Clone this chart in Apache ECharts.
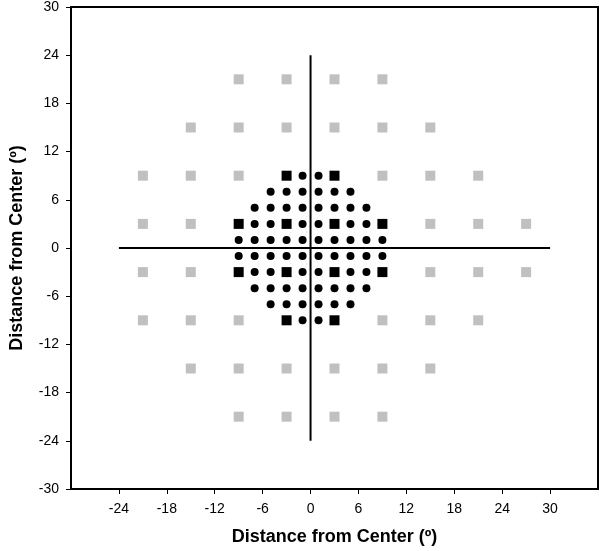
<!DOCTYPE html>
<html>
<head>
<meta charset="utf-8">
<script src="https://cdn.jsdelivr.net/npm/echarts@6/dist/echarts.min.js"></script>
<style>html,body{margin:0;padding:0;background:#fff;}#c{width:600px;height:551px;}</style>
</head>
<body>
<div id="c"></div>
<script>
// Central 10-2 style test points (black circles), [x, y] in degrees
var circlePoints = [
  [-1,9],[1,9],
  [-5,7],[-3,7],[-1,7],[1,7],[3,7],[5,7],
  [-7,5],[-5,5],[-3,5],[-1,5],[1,5],[3,5],[5,5],[7,5],
  [-7,3],[-5,3],[-1,3],[1,3],[5,3],[7,3],
  [-9,1],[-7,1],[-5,1],[-3,1],[-1,1],[1,1],[3,1],[5,1],[7,1],[9,1],
  [-9,-1],[-7,-1],[-5,-1],[-3,-1],[-1,-1],[1,-1],[3,-1],[5,-1],[7,-1],[9,-1],
  [-7,-3],[-5,-3],[-1,-3],[1,-3],[5,-3],[7,-3],
  [-7,-5],[-5,-5],[-3,-5],[-1,-5],[1,-5],[3,-5],[5,-5],[7,-5],
  [-5,-7],[-3,-7],[-1,-7],[1,-7],[3,-7],[5,-7],
  [-1,-9],[1,-9]
];
// 24-2 points inside the central field (black squares)
var blackSquares = [
  [-3,9],[3,9],
  [-9,3],[-3,3],[3,3],[9,3],
  [-9,-3],[-3,-3],[3,-3],[9,-3],
  [-3,-9],[3,-9]
];
// Remaining 24-2 points (grey squares)
var graySquares = [
  [-9,21],[-3,21],[3,21],[9,21],
  [-15,15],[-9,15],[-3,15],[3,15],[9,15],[15,15],
  [-21,9],[-15,9],[-9,9],[9,9],[15,9],[21,9],
  [-21,3],[-15,3],[15,3],[21,3],[27,3],
  [-21,-3],[-15,-3],[15,-3],[21,-3],[27,-3],
  [-21,-9],[-15,-9],[-9,-9],[9,-9],[15,-9],[21,-9],
  [-15,-15],[-9,-15],[-3,-15],[3,-15],[9,-15],[15,-15],
  [-9,-21],[-3,-21],[3,-21],[9,-21]
];
// Crosshair lines
var horizontalLine = [[-24,0],[30,0]];
var verticalLine = [[0,-24],[0,24]];
// Axis ranges
var xRange = [-30, 36];
var yRange = [-30, 30];
var tickStep = 6;
var axisTitle = 'Distance from Center (º)';

var chart = echarts.init(document.getElementById('c'));
var font = 'Liberation Sans, Arial, sans-serif';
chart.setOption({
  animation: false,
  grid: {left: 65, right: 2, top: 6, bottom: 57, show: true, borderColor: '#000', borderWidth: 2, containLabel: false},
  xAxis: {
    type: 'value', min: xRange[0], max: xRange[1], interval: tickStep,
    name: axisTitle, nameLocation: 'middle', nameGap: 39,
    nameTextStyle: {fontFamily: font, fontWeight: 'bold', fontSize: 18, color: '#000'},
    axisLine: {show: true, onZero: false, lineStyle: {color: '#000', width: 2}},
    axisTick: {show: true, inside: false, length: 5, lineStyle: {color: '#000', width: 1}},
    axisLabel: {showMinLabel: false, showMaxLabel: false, fontFamily: font, fontSize: 14, color: '#000', margin: 13},
    splitLine: {show: false}
  },
  yAxis: {
    type: 'value', min: yRange[0], max: yRange[1], interval: tickStep,
    name: axisTitle, nameLocation: 'middle', nameGap: 45, nameRotate: 90,
    nameTextStyle: {fontFamily: font, fontWeight: 'bold', fontSize: 18, color: '#000'},
    axisLine: {show: true, onZero: false, lineStyle: {color: '#000', width: 2}},
    axisTick: {show: true, inside: false, length: 5, lineStyle: {color: '#000', width: 1}},
    axisLabel: {fontFamily: font, fontSize: 14, color: '#000', margin: 12},
    splitLine: {show: false}
  },
  series: [
    {type: 'scatter', data: graySquares, symbol: 'rect', symbolSize: 10, itemStyle: {color: '#c0c0c0', opacity: 1}, z: 2},
    {type: 'scatter', data: blackSquares, symbol: 'rect', symbolSize: 10, itemStyle: {color: '#000', opacity: 1}, z: 3},
    {type: 'scatter', data: circlePoints, symbol: 'circle', symbolSize: 8, itemStyle: {color: '#000', opacity: 1}, z: 3},
    {type: 'line', data: horizontalLine, symbol: 'none', lineStyle: {color: '#000', width: 2}, z: 4},
    {type: 'line', data: verticalLine, symbol: 'none', lineStyle: {color: '#000', width: 2}, z: 4}
  ]
});
</script>
</body>
</html>
